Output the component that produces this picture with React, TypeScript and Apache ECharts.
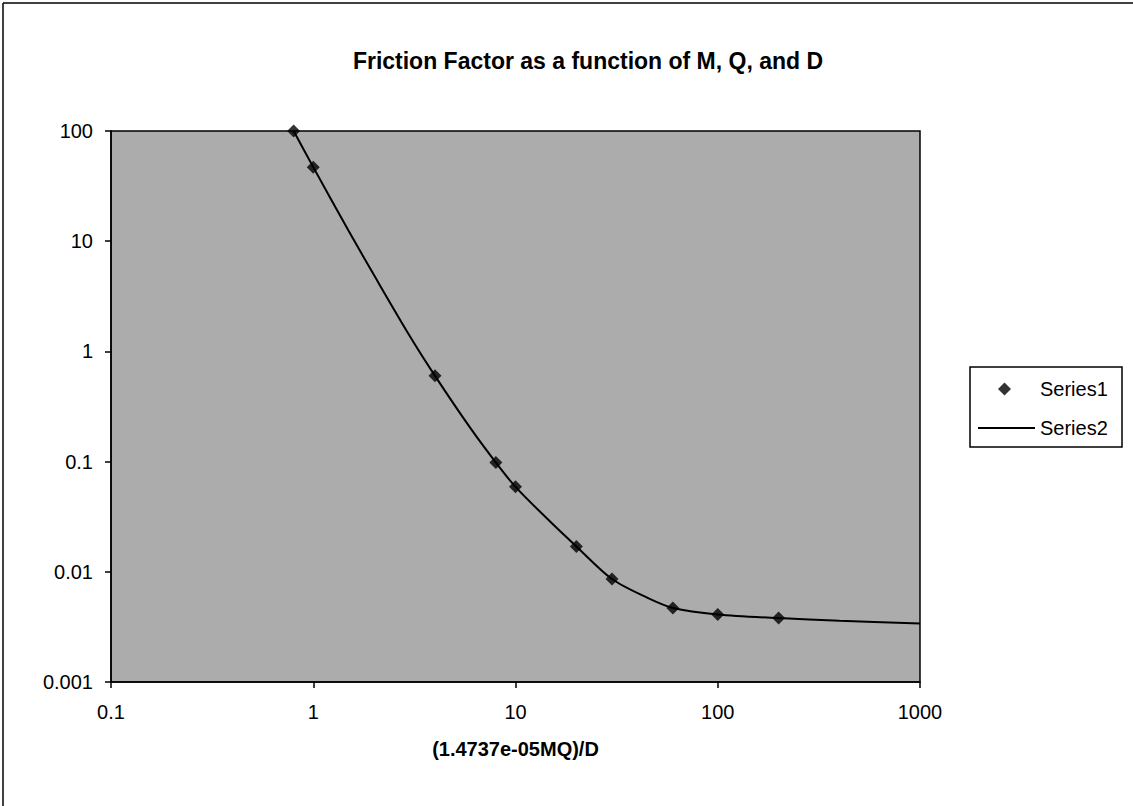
import React, { useEffect, useRef } from "react";
import * as echarts from "echarts";

const titleText = "Friction Factor as a function of M, Q, and D";
const xAxisName = "(1.4737e-05MQ)/D";
const xTickLabels = ["0.1", "1", "10", "100", "1000"];
const yTickLabels = ["0.001", "0.01", "0.1", "1", "10", "100"];

// Series1: measured points (x, f)
const s1X = [0.8, 1, 4, 8, 10, 20, 30, 60, 100, 200];
const s1Y = [100, 47, 0.6, 0.098, 0.059, 0.017, 0.0086, 0.0047, 0.0041, 0.0038];

// Series2: fitted curve
const s2X = [0.8, 1, 1.5, 2, 3, 4, 6, 8, 10, 15, 20, 30, 45, 60, 100, 200, 400, 1000];
const s2Y = [100, 47, 12.3, 4.9, 1.38, 0.6, 0.2, 0.098, 0.059, 0.028, 0.017, 0.0086, 0.0058, 0.0047, 0.0041, 0.0038, 0.0036, 0.0034];

const fmt = (labels: string[]) => (v: number) => {
  const found = labels.find((l) => Math.abs(Math.log10(parseFloat(l)) - Math.log10(v)) < 1e-6);
  return found ?? "";
};

export default function App() {
  const ref = useRef<HTMLDivElement>(null);
  useEffect(() => {
    if (!ref.current) return;
    const chart = echarts.init(ref.current, null, { renderer: "svg" });
    const font = "'Liberation Sans', Arial, sans-serif";
    const legendText = { fontFamily: font, fontSize: 20, color: "#000" };
    chart.setOption({
      animation: false,
      backgroundColor: "#ffffff",
      title: {
        text: titleText,
        left: 583,
        top: 44,
        textAlign: "center",
        textStyle: { fontFamily: font, fontWeight: "bold", fontSize: 23, color: "#000" },
      },
      grid: {
        left: 111,
        right: 213,
        top: 131,
        bottom: 124,
        show: true,
        backgroundColor: "#acacac",
        borderColor: "#000",
        borderWidth: 1.5,
      },
      legend: [
        {
          left: 998,
          top: 379,
          padding: 0,
          itemWidth: 13,
          itemHeight: 13,
          textStyle: { ...legendText, padding: [0, 0, 0, 24] },
          data: [{ name: "Series1", icon: "diamond", itemStyle: { color: "#000" } }],
        },
        {
          left: 978,
          top: 418,
          padding: 0,
          itemWidth: 57,
          itemHeight: 2,
          textStyle: legendText,
          data: [{ name: "Series2", icon: "rect", itemStyle: { color: "#000" } }],
        },
      ],
      xAxis: {
        type: "log",
        logBase: 10,
        min: 0.1,
        max: 1000,
        name: xAxisName,
        nameLocation: "middle",
        nameGap: 57,
        nameTextStyle: { fontFamily: font, fontWeight: "bold", fontSize: 20, color: "#000" },
        axisLine: { lineStyle: { color: "#000", width: 1.5 } },
        axisTick: { show: true, length: 6, lineStyle: { color: "#000", width: 1.5 } },
        axisLabel: { fontFamily: font, fontSize: 20, color: "#000", margin: 20, formatter: fmt(xTickLabels) },
        splitLine: { show: false },
      },
      yAxis: {
        type: "log",
        logBase: 10,
        min: 0.001,
        max: 100,
        axisLine: { show: true, lineStyle: { color: "#000", width: 1.5 } },
        axisTick: { show: true, length: 6, lineStyle: { color: "#000", width: 1.5 } },
        axisLabel: { fontFamily: font, fontSize: 20, color: "#000", margin: 18, formatter: fmt(yTickLabels) },
        splitLine: { show: false },
      },
      series: [
        {
          name: "Series1",
          type: "scatter",
          symbol: "diamond",
          symbolSize: 13,
          itemStyle: { color: "#000" },
          data: s1X.map((x, i) => [x, s1Y[i]]),
          z: 3,
        },
        {
          name: "Series2",
          type: "line",
          showSymbol: false,
          symbol: "none",
          smooth: 0.3,
          lineStyle: { color: "#000", width: 2 },
          itemStyle: { color: "#000" },
          data: s2X.map((x, i) => [x, s2Y[i]]),
          z: 2,
        },
      ],
      graphic: [
        { type: "line", shape: { x1: 3, y1: 3, x2: 1133, y2: 3 }, style: { stroke: "#000", lineWidth: 1.5 } },
        { type: "line", shape: { x1: 3, y1: 3, x2: 3, y2: 806 }, style: { stroke: "#000", lineWidth: 1.5 } },
        {
          type: "rect",
          z: -1,
          shape: { x: 970, y: 367, width: 152, height: 80 },
          style: { fill: "#fff", stroke: "#000", lineWidth: 1.5 },
        },
      ],
    });
    return () => chart.dispose();
  }, []);
  return (
    <div
      ref={ref}
      style={{ position: "fixed", left: 0, top: 0, width: 1133, height: 806 }}
    />
  );
}
